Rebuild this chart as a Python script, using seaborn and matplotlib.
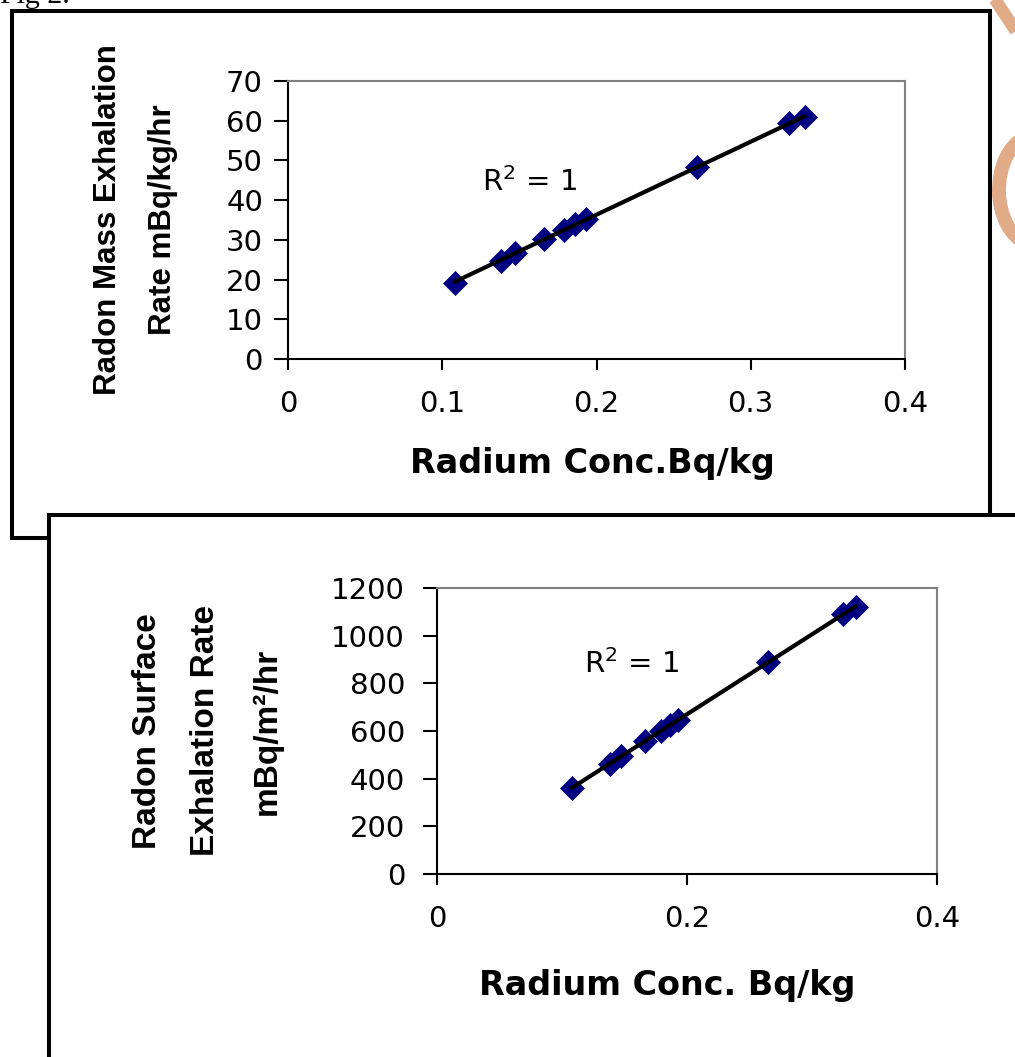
import numpy as np
import pandas as pd
import matplotlib.pyplot as plt
import seaborn as sns
from matplotlib.patches import Rectangle, Arc
from matplotlib.lines import Line2D

# Values
radium = [0.108, 0.138, 0.147, 0.166, 0.179, 0.186, 0.193, 0.265, 0.325, 0.335]
mass_rate = [19.2, 24.6, 26.8, 30.2, 32.6, 33.9, 35.2, 48.3, 59.3, 61.0]
surface_rate = [360, 462, 494, 556, 600, 624, 648, 888, 1090, 1122]

top_xticks = [0, 0.1, 0.2, 0.3, 0.4]
top_yticks = [0, 10, 20, 30, 40, 50, 60, 70]
bot_xticks = [0, 0.2, 0.4]
bot_yticks = [0, 200, 400, 600, 800, 1000, 1200]

df = pd.DataFrame({'radium': radium, 'mass': mass_rate, 'surface': surface_rate})

sns.set_theme(style='ticks')
plt.rcParams['font.family'] = ['DejaVu Sans']
for k in ['text.color', 'axes.labelcolor', 'xtick.color', 'ytick.color']:
    plt.rcParams[k] = 'black'

W, H = 1015, 1057
fig = plt.figure(figsize=(W / 100, H / 100), dpi=100)


def px_axes(l, t, r, b):
    return fig.add_axes([l / W, (H - b) / H, (r - l) / W, (b - t) / H])


def inch(x, y):
    return x / 100, (H - y) / 100


# frames around the two panels
x0, y0 = inch(12, 538)
fig.add_artist(Rectangle((x0, y0), (990 - 12) / 100, (538 - 11) / 100, fill=False,
                         ec='black', lw=2.9, transform=fig.dpi_scale_trans, zorder=-2))
x0, y0 = inch(49, 1100)
fig.add_artist(Rectangle((x0, y0), 1100 / 100, (1100 - 514.5) / 100, fc='white',
                         ec='black', lw=2.9, transform=fig.dpi_scale_trans, zorder=-1))

# orange watermark fragment at right edge
wm = '#e2ab88'
p, q = inch(990, -8), inch(1022, 40)
fig.add_artist(Line2D([p[0], q[0]], [p[1], q[1]], color=wm, lw=9, solid_capstyle='butt',
                      transform=fig.dpi_scale_trans, zorder=-3))
cx, cy = inch(1034, 190)
fig.add_artist(Arc((cx, cy), 0.70, 1.08, theta1=100, theta2=262, color=wm, lw=10,
                   transform=fig.dpi_scale_trans, zorder=-3))

fig.text(*inch(0, 3), 'Fig 2.', family='Liberation Serif', fontsize=21.5, va='baseline',
         ha='left', transform=fig.dpi_scale_trans)


def style_axes(ax, xticks, yticks, ylim, ypad):
    ax.set_xlim(0, xticks[-1])
    ax.set_ylim(*ylim)
    ax.set_xticks(xticks)
    ax.set_yticks(yticks)
    ax.set_xticklabels([f'{t:g}' for t in xticks])
    ax.set_xlabel('')
    ax.set_ylabel('')
    for s in ['left', 'bottom']:
        ax.spines[s].set_color('black')
        ax.spines[s].set_linewidth(1.5)
    for s in ['top', 'right']:
        ax.spines[s].set_color('#808080')
        ax.spines[s].set_linewidth(1.5)
        ax.spines[s].set_visible(True)
    ax.tick_params(axis='x', direction='out', length=8, width=1.5, color='black',
                   labelsize=21, pad=14)
    ax.tick_params(axis='y', direction='out', length=10, width=1.5, color='black',
                   labelsize=21, pad=ypad)
    ax.set_facecolor('white')


marker_kws = dict(s=150, color='#000080', edgecolor='#000080', linewidths=0.5, alpha=1)
line_kws = dict(color='black', lw=3)
ylab_font = ['Liberation Sans', 'DejaVu Sans']

# top panel
ax1 = px_axes(288, 81, 905, 359)
sns.regplot(data=df, x='radium', y='mass', ax=ax1, ci=None, marker='D',
            scatter_kws=marker_kws, line_kws=line_kws)
style_axes(ax1, top_xticks, top_yticks, (0, 70), 8)
ax1.text(0.126, 42.4, 'R$^2$ = 1', fontsize=21, va='baseline')
fig.text(*inch(592, 464), 'Radium Conc.Bq/kg', fontweight='bold', fontsize=24,
         ha='center', va='center', transform=fig.dpi_scale_trans)
for xp, txt in [(108, 'Radon Mass Exhalation'), (163, 'Rate mBq/kg/hr')]:
    fig.text(*inch(xp, 220), txt, family=ylab_font,
             fontweight='bold', fontsize=22.5, rotation=90, ha='center', va='center',
             transform=fig.dpi_scale_trans)

# bottom panel
ax2 = px_axes(437, 588, 937, 874)
sns.regplot(data=df, x='radium', y='surface', ax=ax2, ci=None, marker='D',
            scatter_kws=marker_kws, line_kws=line_kws)
style_axes(ax2, bot_xticks, bot_yticks, (0, 1200), 13)
ax2.text(0.118, 843, 'R$^2$ = 1', fontsize=21, va='baseline')
fig.text(*inch(667, 986), 'Radium Conc. Bq/kg', fontweight='bold', fontsize=24,
         ha='center', va='center', transform=fig.dpi_scale_trans)
for xp, txt in [(148, 'Radon Surface'), (206, 'Exhalation Rate'), (267, 'mBq/m²/hr')]:
    fig.text(*inch(xp, 731), txt, family=ylab_font,
             fontweight='bold', fontsize=24, rotation=90, ha='center', va='center',
             transform=fig.dpi_scale_trans)

fig.savefig('out.png', dpi=100)
